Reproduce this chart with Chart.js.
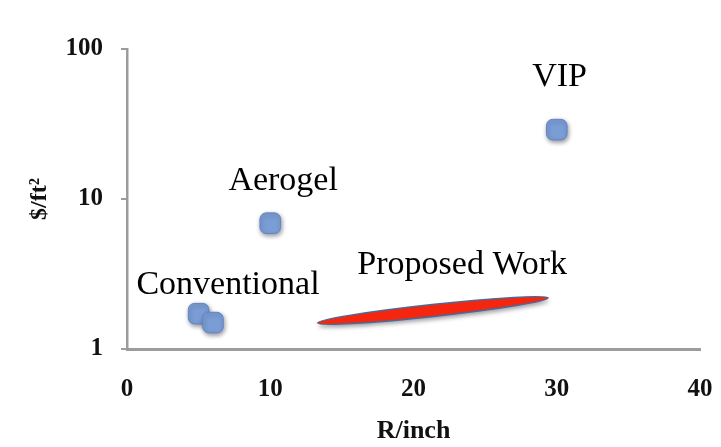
<!DOCTYPE html>
<html>
<head>
<meta charset="utf-8">
<script src="https://cdn.jsdelivr.net/npm/chart.js@4"></script>
<style>
  html, body { margin: 0; padding: 0; background: #ffffff; }
  #wrap { width: 721px; height: 447px; }
</style>
</head>
<body>
<div id="wrap"><canvas id="c" width="721" height="447"></canvas></div>
<script>
// Insulation materials: thermal resistance per inch vs. cost per square foot
const materialNames = ['Conventional', 'Conventional', 'Aerogel', 'VIP'];
const rPerInch = [5, 6, 10, 30];
const costPerSqFt = [1.72, 1.5, 6.9, 29];

// Target region for the proposed material (end points of the band)
const proposedR = [13.3, 29.4];
const proposedCost = [1.49, 2.19];

// Text annotations: centre x and baseline y in data units
const labelTexts = ['VIP', 'Aerogel', 'Conventional', 'Proposed Work'];
const labelR = [30.2, 10.9, 7.05, 23.4];
const labelCost = [56.7, 11.5, 2.33, 3.16];

// Axis ticks
const xTicks = [0, 10, 20, 30, 40];
const yTicks = [1, 10, 100];

const serif = '"Liberation Serif", "Times New Roman", serif';

const whiteBg = {
  id: 'whiteBg',
  beforeDraw(chart) {
    const ctx = chart.ctx;
    ctx.save();
    ctx.fillStyle = '#ffffff';
    ctx.fillRect(0, 0, chart.width, chart.height);
    ctx.restore();
  }
};

const proposedBand = {
  id: 'proposedBand',
  beforeDatasetsDraw(chart) {
    const xs = chart.scales.x, ys = chart.scales.y;
    const x1 = xs.getPixelForValue(proposedR[0]), y1 = ys.getPixelForValue(proposedCost[0]);
    const x2 = xs.getPixelForValue(proposedR[1]), y2 = ys.getPixelForValue(proposedCost[1]);
    const cx = (x1 + x2) / 2, cy = (y1 + y2) / 2;
    const half = Math.hypot(x2 - x1, y2 - y1) / 2;
    const ang = Math.atan2(y2 - y1, x2 - x1);
    const ctx = chart.ctx;
    ctx.save();
    ctx.shadowColor = 'rgba(40,40,60,0.45)';
    ctx.shadowBlur = 4;
    ctx.shadowOffsetX = 1;
    ctx.shadowOffsetY = 3;
    ctx.beginPath();
    ctx.ellipse(cx, cy, half, 6, ang, 0, Math.PI * 2);
    ctx.fillStyle = '#f4260f';
    ctx.fill();
    ctx.shadowColor = 'transparent';
    ctx.lineWidth = 1.5;
    ctx.strokeStyle = '#4b6a92';
    ctx.stroke();
    ctx.restore();
  }
};

const pointShadow = {
  id: 'pointShadow',
  beforeDatasetDraw(chart) {
    const ctx = chart.ctx;
    ctx.save();
    ctx.shadowColor = 'rgba(30,30,50,0.45)';
    ctx.shadowBlur = 4;
    ctx.shadowOffsetX = 1;
    ctx.shadowOffsetY = 2;
  },
  afterDatasetDraw(chart) {
    chart.ctx.restore();
  }
};

const textLabels = {
  id: 'textLabels',
  afterDatasetsDraw(chart) {
    const xs = chart.scales.x, ys = chart.scales.y;
    const ctx = chart.ctx;
    ctx.save();
    ctx.fillStyle = '#000000';
    ctx.font = '34px ' + serif;
    ctx.textAlign = 'center';
    ctx.textBaseline = 'alphabetic';
    labelTexts.forEach((t, i) => {
      ctx.fillText(t, xs.getPixelForValue(labelR[i]), ys.getPixelForValue(labelCost[i]));
    });
    ctx.restore();
  }
};

new Chart(document.getElementById('c'), {
  type: 'scatter',
  data: {
    datasets: [{
      label: 'Materials',
      data: rPerInch.map((r, i) => ({ x: r, y: costPerSqFt[i], name: materialNames[i] })),
      pointStyle: 'rectRounded',
      pointRadius: 12,
      pointHoverRadius: 12,
      backgroundColor: '#7b9dd6',
      borderColor: '#6386c2',
      borderWidth: 1
    }]
  },
  options: {
    responsive: false,
    animation: false,
    events: [],
    layout: { padding: { left: 25, right: 21, top: 49, bottom: 0 } },
    plugins: {
      legend: { display: false },
      tooltip: { enabled: false }
    },
    scales: {
      x: {
        type: 'linear',
        min: 0,
        max: 40,
        afterBuildTicks: s => { s.ticks = xTicks.map(v => ({ value: v })); },
        afterFit: s => { s.height = 98; s.paddingLeft = 0; s.paddingRight = 0; },
        grid: { display: false },
        border: { display: true, color: '#9c9c9c', width: 3 },
        ticks: {
          color: '#111111',
          padding: 18,
          font: { family: serif, size: 25, weight: 'bold' }
        },
        title: {
          display: true,
          text: 'R/inch',
          color: '#111111',
          padding: { top: 0, bottom: 0 },
          font: { family: serif, size: 26, weight: 'bold' }
        }
      },
      y: {
        type: 'logarithmic',
        min: 1,
        max: 100,
        afterBuildTicks: s => { s.ticks = yTicks.map(v => ({ value: v })); },
        afterFit: s => { s.width = 102; s.paddingTop = 0; s.paddingBottom = 0; },
        grid: {
          drawOnChartArea: false,
          drawTicks: true,
          tickLength: 6,
          color: '#9c9c9c',
          lineWidth: 2
        },
        border: { display: true, color: '#9c9c9c', width: 2.5 },
        ticks: {
          color: '#111111',
          padding: 18,
          callback: v => String(v),
          font: { family: serif, size: 25, weight: 'bold' }
        },
        title: {
          display: true,
          text: '$/ft²',
          color: '#111111',
          padding: { top: 0, bottom: 0 },
          font: { family: serif, size: 24, weight: 'bold' }
        }
      }
    }
  },
  plugins: [whiteBg, proposedBand, pointShadow, textLabels]
});
</script>
</body>
</html>
